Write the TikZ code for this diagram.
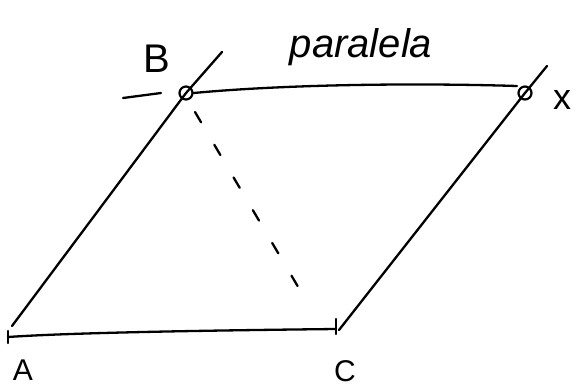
\documentclass[tikz,border=0pt]{standalone}
\usepackage{fontspec}
\setmainfont{Liberation Sans}
\usetikzlibrary{positioning}

\begin{document}
\begin{tikzpicture}[x=1pt, y=-1pt, line width=2.3pt, line cap=round, line join=round,
    punto/.style={circle, draw, line width=2.2pt, inner sep=0pt, minimum size=13pt},
    letra/.style={inner sep=0pt, font=\fontsize{30}{32}\selectfont},
    rayas/.style={dash pattern=on 12pt off 26pt}]
    \useasboundingbox (0,0) rectangle (576,391);

    % puntos
    \node[punto] (b) at (186,93) {};
    \node[punto] (x) at (525,93) {};
    \coordinate (a) at (8,337);
    \coordinate (c) at (336,329);
    \coordinate (abase) at (12,326);
    \coordinate (cbase) at (339,330);
    \coordinate (btop) at (222,52);
    \coordinate (xtop) at (547,66);
    \coordinate (bleft) at (123,98);
    \coordinate (bright) at (161,93);
    \coordinate (pfin) at (517,86);
    \coordinate (dini) at (195,112);
    \coordinate (dfin) at (307,302);

    % lados
    \draw (abase) -- (b.center) -- (btop);
    \draw (cbase) -- (x.center) -- (xtop);
    \draw (a) .. controls (80,332) and (250,330) .. (c);
    \draw (b.east) .. controls (290,84) and (420,83) .. (pfin);
    \draw (bleft) -- (bright);
    \draw[rayas] (dini) -- (dfin);

    % marcas
    \draw ([yshift=-6pt]a) -- ([yshift=6pt]a);
    \draw ([yshift=-5pt]c) -- ([yshift=10pt]c);

    % letras
    \node[letra, font=\fontsize{40}{42}\selectfont] (lb) at (157,59) {B};
    \node[letra, font=\itshape\fontsize{40}{42}\selectfont] (lp) at (361,47) {paralela};
    \node[letra, font=\fontsize{36}{38}\selectfont] (lx) at (562,100) {x};
    \node[letra] (la) at (23,370) {A};
    \node[letra] (lc) at (345,371) {C};
\end{tikzpicture}
\end{document}
